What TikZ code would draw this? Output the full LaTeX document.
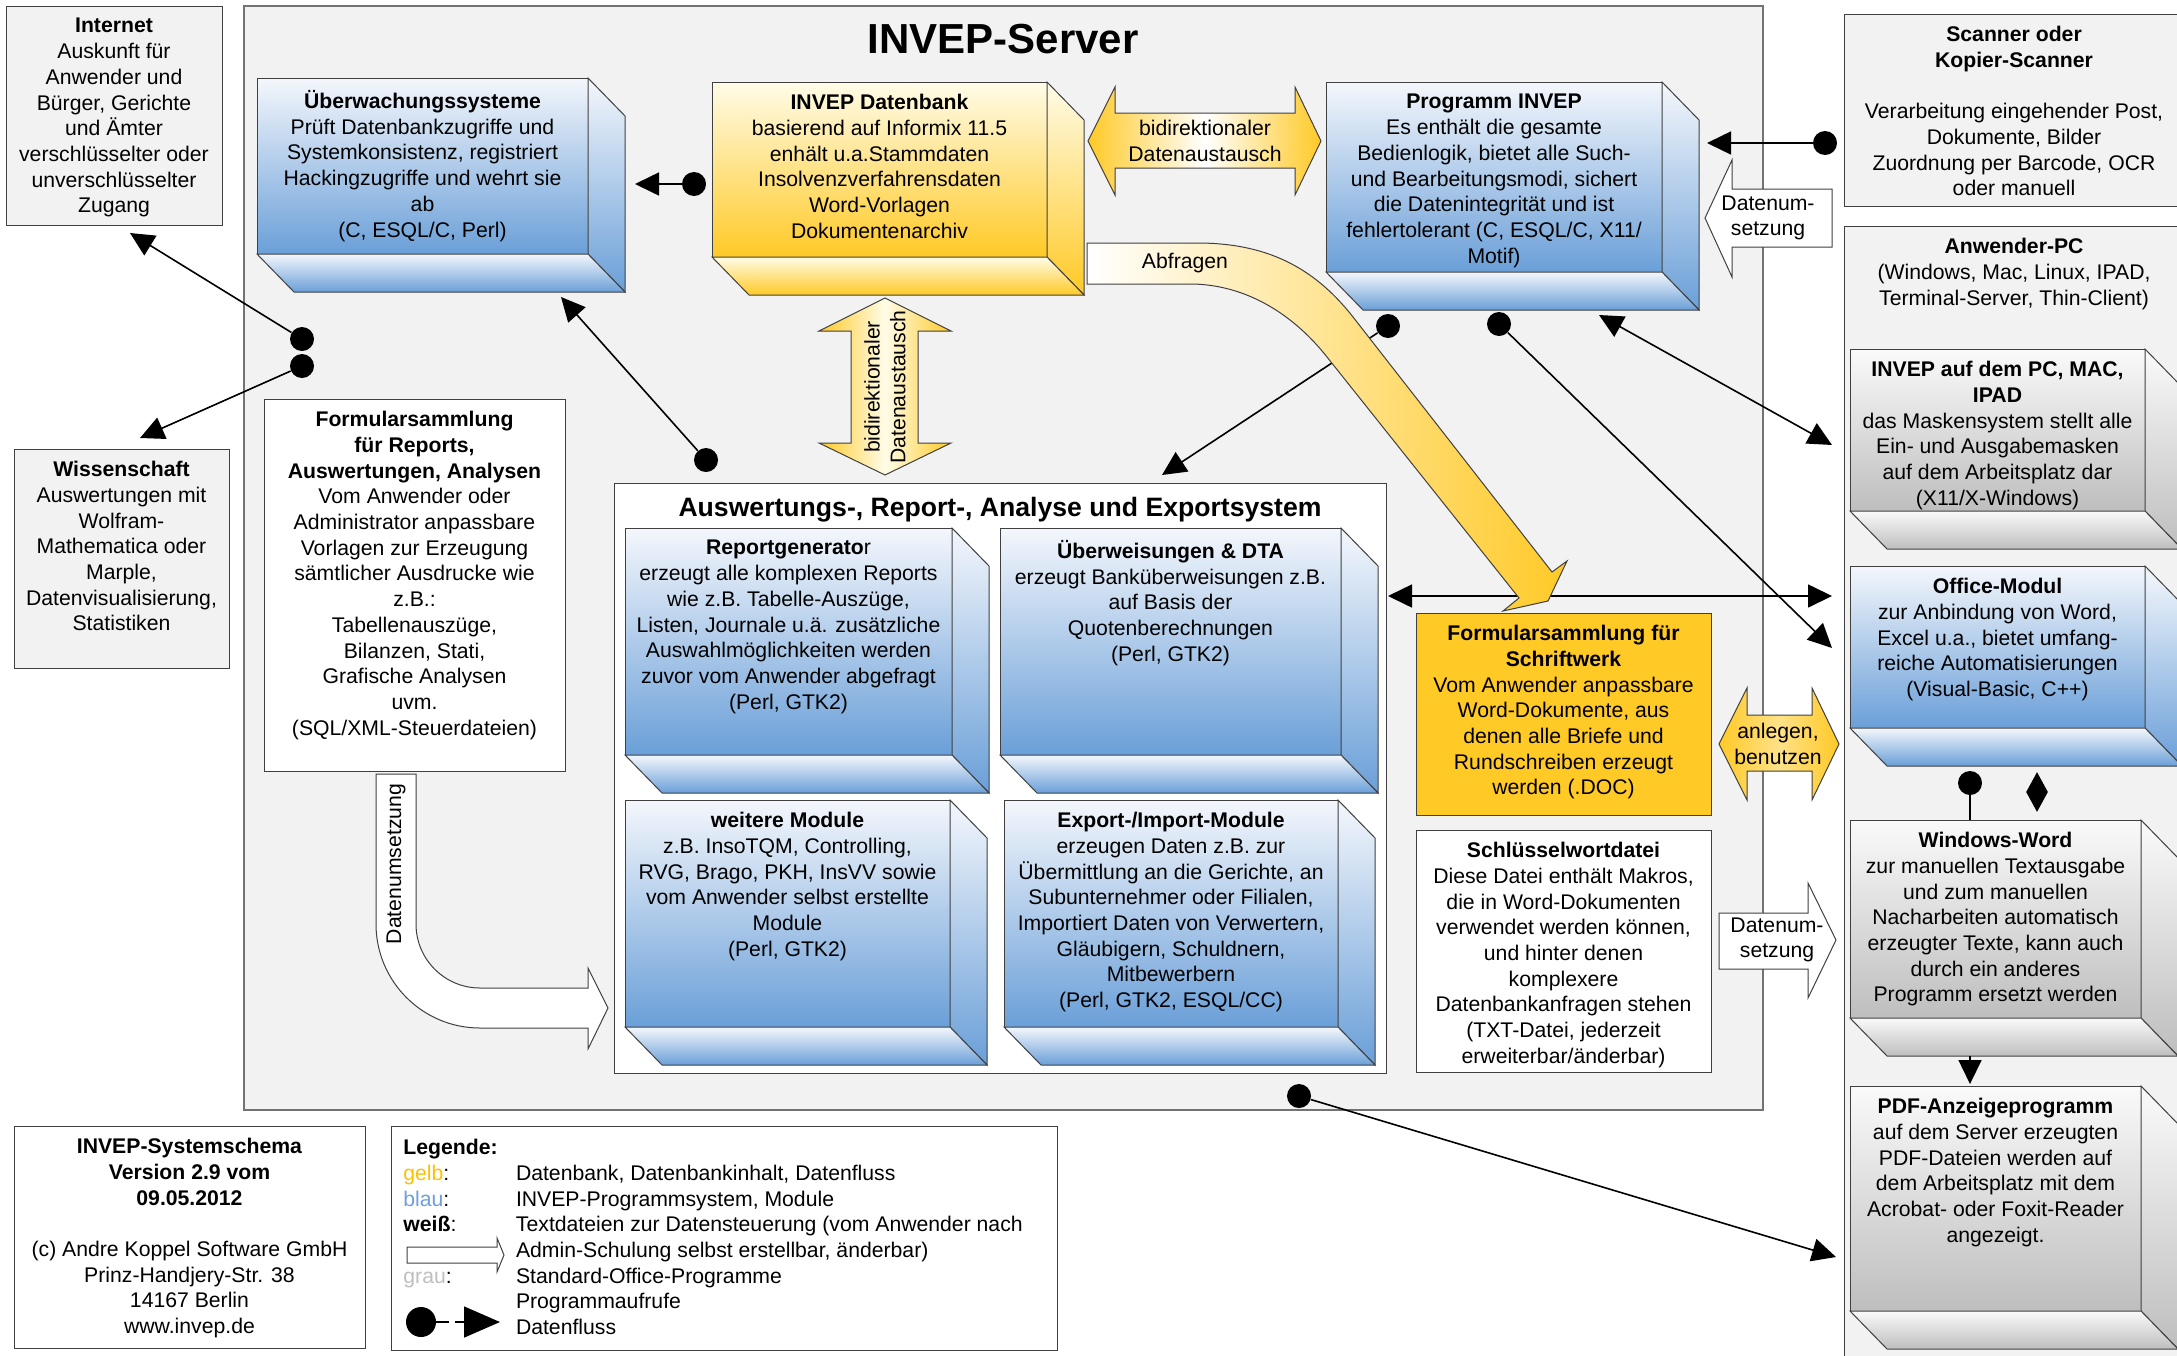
\documentclass[tikz,border=0pt]{standalone}
\usepackage{fontspec}
\setmainfont{Liberation Sans}
\usetikzlibrary{arrows.meta,positioning,shapes.geometric}

\definecolor{blauH}{RGB}{244,247,252}
\definecolor{blauD}{RGB}{106,159,216}
\definecolor{gelbH}{RGB}{255,252,232}
\definecolor{gelbD}{RGB}{255,201,38}
\definecolor{grauH}{RGB}{250,250,250}
\definecolor{grauD}{RGB}{190,190,190}
\definecolor{hinter}{RGB}{242,242,242}
\definecolor{rahmen}{RGB}{64,64,64}
\definecolor{legGelb}{RGB}{255,192,0}
\definecolor{legBlau}{RGB}{110,160,220}
\definecolor{legGrau}{RGB}{191,191,191}

\newcommand{\kastenfont}{\fontsize{10.6}{12.85}\selectfont}
\newcommand{\quader}[7]{%
  \node[front, #2, minimum width=#5*0.5pt, minimum height=#6*0.5pt] (#1) at (#3,#4) {};
  \draw[face, #2] (#1.north east) -- ++(37,38) -- ++(0,#6) -- (#1.south east) -- cycle;
  \draw[face, #2] (#1.south west) -- (#1.south east) -- ++(37,38) -- ++(-#5,0) -- cycle;
  \node[txt, below=6pt of #1.north] (#1-txt) {#7};
}
\newcommand{\kasten}[7]{%
  \node[front, #2, minimum width=#5*0.5pt, minimum height=#6*0.5pt] (#1) at (#3,#4) {};
  \node[txt, below=6pt of #1.north] (#1-txt) {#7};
}

\begin{document}
\begin{tikzpicture}[x=0.5pt, y=-0.5pt,
    front/.style={draw=rahmen, line width=0.5pt, anchor=north west, inner sep=0pt, outer sep=0pt},
    face/.style={draw=rahmen, line width=0.5pt},
    blau/.style={top color=blauH, bottom color=blauD},
    gelb/.style={top color=gelbH, bottom color=gelbD},
    grau/.style={top color=grauH, bottom color=grauD},
    hell/.style={fill=hinter},
    weiss/.style={fill=white},
    gold/.style={fill=gelbD},
    txt/.style={align=center, inner sep=0pt, font=\kastenfont, execute at begin node=\strut},
    punkt/.style={circle, fill=black, inner sep=0pt, minimum size=12pt},
    pfeil/.style={-{Triangle[length=12pt, width=11.5pt]}, line width=0.8pt},
    dpfeil/.style={{Triangle[length=12pt, width=11.5pt]}-{Triangle[length=12pt, width=11.5pt]}, line width=0.8pt},
    block/.style={draw=rahmen, line width=0.5pt, fill=white},
    querband/.style={draw=rahmen, line width=0.5pt, left color=gelbD, right color=gelbD, middle color=white}
  ]
  \useasboundingbox (0,0) rectangle (2177,1355);
  \clip (0,0) rectangle (2177,1355);

  \node[front, hell, draw=black!55, line width=0.8pt, minimum width=1519*0.5pt, minimum height=1104*0.5pt] (server) at (244,6) {};
  \node[font=\fontsize{21}{25}\selectfont\bfseries] (server-titel) at (1003,39) {INVEP-Server};

  \kasten{internet}{hell}{6}{6}{216}{219}{\textbf{Internet}\\Auskunft für\\Anwender und\\Bürger, Gerichte\\und Ämter\\verschlüsselter oder\\unverschlüsselter\\Zugang}
  \kasten{wissen}{hell}{14}{449}{215}{219}{\textbf{Wissenschaft}\\Auswertungen mit\\Wolfram-\\Mathematica oder\\Marple,\\Datenvisualisierung,\\Statistiken}
  \kasten{scanner}{hell}{1844}{14}{340}{192}{\textbf{Scanner oder}\\\textbf{Kopier-Scanner}\\[12.85pt]Verarbeitung eingehender Post,\\Dokumente, Bilder\\Zuordnung per Barcode, OCR\\oder manuell}
  \kasten{anwender}{hell}{1844}{226}{340}{1150}{\textbf{Anwender-PC}\\(Windows, Mac, Linux, IPAD,\\Terminal-Server, Thin-Client)}

  \quader{ueberw}{blau}{257}{78}{331}{176}{\textbf{Überwachungssysteme}\\Prüft Datenbankzugriffe und\\Systemkonsistenz, registriert\\Hackingzugriffe und wehrt sie\\ab\\(C, ESQL/C, Perl)}
  \quader{datenbank}{gelb}{712}{82}{335}{175}{\textbf{INVEP Datenbank}\\basierend auf Informix 11.5\\enhält u.a.Stammdaten\\Insolvenzverfahrensdaten\\Word-Vorlagen\\Dokumentenarchiv}
  \quader{programm}{blau}{1326}{82}{336}{190}{\textbf{Programm INVEP}\\Es enthält die gesamte\\Bedienlogik, bietet alle Such-\\und Bearbeitungsmodi, sichert\\die Datenintegrität und ist\\fehlertolerant (C, ESQL/C, X11/\\Motif)}
  \quader{pcinvep}{grau}{1850}{349}{295}{162}{\textbf{INVEP auf dem PC, MAC,}\\\textbf{IPAD}\\das Maskensystem stellt alle\\Ein- und Ausgabemasken\\auf dem Arbeitsplatz dar\\(X11/X-Windows)}
  \quader{office}{blau}{1850}{566}{295}{162}{\textbf{Office-Modul}\\zur Anbindung von Word,\\Excel u.a., bietet umfang-\\reiche Automatisierungen\\(Visual-Basic, C++)}
  \quader{word}{grau}{1850}{820}{291}{198}{\textbf{Windows-Word}\\zur manuellen Textausgabe\\und zum manuellen\\Nacharbeiten automatisch\\erzeugter Texte, kann auch\\durch ein anderes\\Programm ersetzt werden}
  \quader{pdf}{grau}{1850}{1086}{291}{225}{\textbf{PDF-Anzeigeprogramm}\\auf dem Server erzeugten\\PDF-Dateien werden auf\\dem Arbeitsplatz mit dem\\Acrobat- oder Foxit-Reader\\angezeigt.}

  \kasten{formrep}{weiss}{264}{399}{301}{372}{\textbf{Formularsammlung}\\\textbf{für Reports,}\\\textbf{Auswertungen, Analysen}\\Vom Anwender oder\\Administrator anpassbare\\Vorlagen zur Erzeugung\\sämtlicher Ausdrucke wie\\z.B.:\\Tabellenauszüge,\\Bilanzen, Stati,\\Grafische Analysen\\uvm.\\(SQL/XML-Steuerdateien)}
  \node[front, weiss, minimum width=772*0.5pt, minimum height=590*0.5pt] (auswert) at (614,483) {};
  \node[font=\fontsize{13.3}{16}\selectfont\bfseries] (auswert-titel) at (1000,510) {Auswertungs-, Report-, Analyse und Exportsystem};
  \quader{report}{blau}{625}{528}{327}{227}{\textbf{Reportgenerato}r\\erzeugt alle komplexen Reports\\wie z.B. Tabelle-Auszüge,\\Listen, Journale u.ä. zusätzliche\\Auswahlmöglichkeiten werden\\zuvor vom Anwender abgefragt\\(Perl, GTK2)}
  \quader{ueberweis}{blau}{1000}{528}{341}{227}{\textbf{Überweisungen \& DTA}\\erzeugt Banküberweisungen z.B.\\auf Basis der\\Quotenberechnungen\\(Perl, GTK2)}
  \quader{module}{blau}{625}{800}{325}{227}{\textbf{weitere Module}\\z.B. InsoTQM, Controlling,\\RVG, Brago, PKH, InsVV sowie\\vom Anwender selbst erstellte\\Module\\(Perl, GTK2)}
  \quader{export}{blau}{1004}{800}{334}{227}{\textbf{Export-/Import-Module}\\erzeugen Daten z.B. zur\\Übermittlung an die Gerichte, an\\Subunternehmer oder Filialen,\\Importiert Daten von Verwertern,\\Gläubigern, Schuldnern,\\Mitbewerbern\\(Perl, GTK2, ESQL/CC)}
  \kasten{schrift}{gold}{1416}{613}{295}{202}{\textbf{Formularsammlung für}\\\textbf{Schriftwerk}\\Vom Anwender anpassbare\\Word-Dokumente, aus\\denen alle Briefe und\\Rundschreiben erzeugt\\werden (.DOC)}
  \kasten{schluessel}{weiss}{1416}{830}{295}{242}{\textbf{Schlüsselwortdatei}\\Diese Datei enthält Makros,\\die in Word-Dokumenten\\verwendet werden können,\\und hinter denen\\komplexere\\Datenbankanfragen stehen\\(TXT-Datei, jederzeit\\erweiterbar/änderbar)}

  \draw[querband] (1088,141) -- (1115,87) -- (1115,113) -- (1295,113) -- (1295,87) -- (1321,141) -- (1295,195) -- (1295,168) -- (1115,168) -- (1115,195) -- cycle;
  \node[font=\kastenfont, align=center] (bidi-h) at (1205,141) {bidirektionaler\\Datenaustausch};
  \draw[querband, middle color=gelbH] (885,298) -- (951,331) -- (918,331) -- (918,443) -- (951,443) -- (885,475) -- (819,443) -- (851,443) -- (851,331) -- (819,331) -- cycle;
  \node[font=\kastenfont, align=center, rotate=90] (bidi-v) at (885,387) {bidirektionaler\\Datenaustausch};
  \draw[querband, middle color=gelbD!55!white] (1719,744) -- (1747,688) -- (1747,715) -- (1812,715) -- (1812,688) -- (1839,744) -- (1812,800) -- (1812,771) -- (1747,771) -- (1747,800) -- cycle;
  \node[font=\kastenfont, align=center] (anlegen) at (1778,744) {anlegen,\\benutzen};

  \draw[block] (1705,218) -- (1732,160) -- (1732,189) -- (1832,189) -- (1832,247) -- (1732,247) -- (1732,277) -- cycle;
  \node[font=\kastenfont, align=center] (umsetz-o) at (1768,218) {Datenum-\\setzung};
  \draw[block] (1719,913) -- (1808,913) -- (1808,883) -- (1836,940) -- (1808,998) -- (1808,969) -- (1719,969) -- cycle;
  \node[font=\kastenfont, align=center] (umsetz-u) at (1777,940) {Datenum-\\setzung};
  \draw[block] (376,774) -- (376,924) arc[start angle=180, end angle=90, radius=104] -- (588,1028) -- (588,1049) -- (608,1008) -- (588,968) -- (588,988) -- (480,988) arc[start angle=90, end angle=180, radius=64] -- (416,774) -- cycle;
  \node[font=\kastenfont, rotate=90] (umsetz-l) at (396,864) {Datenumsetzung};

  \node[punkt] (dDB) at (694,184) {};
  \node[punkt] (dScan) at (1825,143) {};
  \node[punkt] (dNet1) at (302,339) {};
  \node[punkt] (dNet2) at (302,366) {};
  \node[punkt] (dAusw) at (706,460) {};
  \node[punkt] (dProg1) at (1388,326) {};
  \node[punkt] (dProg2) at (1499,324) {};
  \node[punkt] (dUnten) at (1299,1096) {};
  \node[punkt] (dOff) at (1970,783) {};
  \node[diamond, fill=black, inner sep=0pt, minimum width=11pt, minimum height=20pt] (raute) at (2037,792) {};

  \coordinate (ueberw-ein) at (635,184);
  \coordinate (prog-ein) at (1707,143);
  \coordinate (net-ein) at (130,233);
  \coordinate (wissen-ein) at (140,438);
  \coordinate (ueberw-unten) at (561,297);
  \coordinate (auswert-ein) at (1162,475);
  \coordinate (office-ein) at (1832,648);
  \coordinate (prog-unten) at (1599,315);
  \coordinate (pc-ein) at (1832,445);
  \coordinate (quer-l) at (1388,596);
  \coordinate (quer-r) at (1832,596);
  \coordinate (pdf-seite) at (1836,1257);
  \coordinate (word-aus) at (1970,1056);
  \coordinate (pdf-ein) at (1970,1084);

  \draw[pfeil] (dDB) -- (ueberw-ein);
  \draw[pfeil] (dScan) -- (prog-ein);
  \draw[pfeil] (dNet1) -- (net-ein);
  \draw[pfeil] (dNet2) -- (wissen-ein);
  \draw[pfeil] (dAusw) -- (ueberw-unten);
  \draw[pfeil] (dProg1) -- (auswert-ein);
  \draw[pfeil] (dProg2) -- (office-ein);
  \draw[dpfeil] (prog-unten) -- (pc-ein);
  \draw[dpfeil] (quer-l) -- (quer-r);
  \draw[pfeil] (dUnten) -- (pdf-seite);
  \draw[line width=0.8pt] (dOff) -- (dOff |- word.north);
  \draw[pfeil] (word-aus) -- (pdf-ein);

  \draw[draw=rahmen, line width=0.5pt, left color=white, right color=gelbD] (1087,243) -- (1197,243) .. controls (1265,243) and (1313,266) .. (1353,317) -- (1552,572) -- (1567,561) -- (1548,601) -- (1503,611) -- (1519,598) -- (1327,357) .. controls (1289,309) and (1240,284) .. (1190,284) -- (1087,284) -- cycle;
  \node[font=\kastenfont] (abfragen) at (1185,263) {Abfragen};

  \kasten{schema}{weiss}{14}{1126}{351}{222}{\textbf{INVEP-Systemschema}\\\textbf{Version 2.9 vom}\\\textbf{09.05.2012}\\[12.85pt](c) Andre Koppel Software GmbH\\Prinz-Handjery-Str. 38\\14167 Berlin\\www.invep.de}
  \node[front, weiss, minimum width=666*0.5pt, minimum height=224*0.5pt] (legende) at (391,1126) {};
  \node[anchor=north west, inner sep=0pt, font=\kastenfont, align=left, execute at begin node=\strut] (legende-txt) at (403,1139) {\textbf{Legende:}\\
    \makebox[56.3pt][l]{\textcolor{legGelb}{gelb}:}Datenbank, Datenbankinhalt, Datenfluss\\
    \makebox[56.3pt][l]{\textcolor{legBlau}{blau}:}INVEP-Programmsystem, Module\\
    \makebox[56.3pt][l]{\textbf{weiß}:}Textdateien zur Datensteuerung (vom Anwender nach\\
    \makebox[56.3pt][l]{}Admin-Schulung selbst erstellbar, änderbar)\\
    \makebox[56.3pt][l]{\textcolor{legGrau}{grau}:}Standard-Office-Programme\\
    \makebox[56.3pt][l]{}Programmaufrufe\\
    \makebox[56.3pt][l]{}Datenfluss};
  \draw[block] (407,1247) -- (497,1247) -- (497,1238) -- (504,1255) -- (497,1272) -- (497,1263) -- (407,1263) -- cycle;
  \node[punkt, minimum size=15pt] (leg-punkt) at (421,1322) {};
  \coordinate (leg-strich) at (449,1322);
  \coordinate (leg-a) at (455,1322);
  \coordinate (leg-b) at (500,1322);
  \draw[line width=0.8pt] (leg-punkt) -- (leg-strich);
  \draw[-{Triangle[length=18pt, width=15.5pt]}, line width=0.8pt] (leg-a) -- (leg-b);
\end{tikzpicture}
\end{document}
